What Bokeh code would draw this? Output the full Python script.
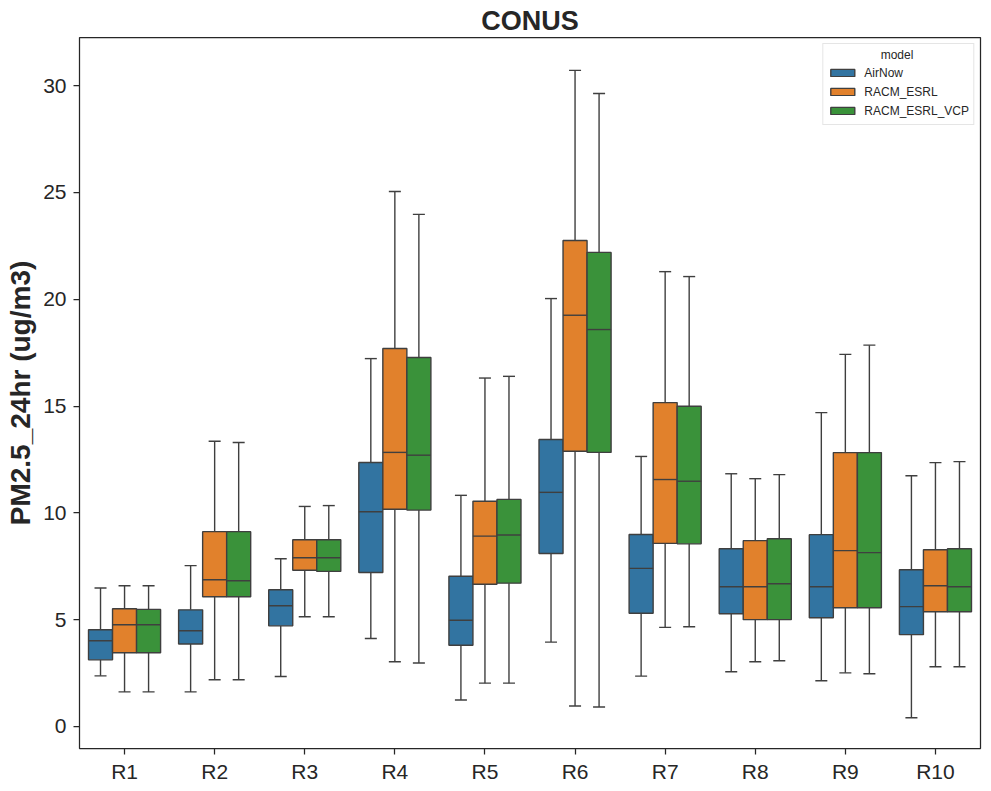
from bokeh.plotting import figure
from bokeh.models import ColumnDataSource, FixedTicker, Range1d, Legend, LegendItem
from bokeh.embed import file_html
from bokeh.resources import INLINE

# Regions and box-plot statistics (PM2.5 24-hr, ug/m3)
regions = ["R1", "R2", "R3", "R4", "R5", "R6", "R7", "R8", "R9", "R10"]
models = ["AirNow", "RACM_ESRL", "RACM_ESRL_VCP"]
colors = ["#3274a1", "#e1812c", "#3a923a"]

airnow_lo = [2.37, 1.62, 2.34, 4.12, 1.24, 3.95, 2.36, 2.56, 2.14, 0.41]
airnow_q1 = [3.12, 3.86, 4.71, 7.21, 3.80, 8.10, 5.30, 5.28, 5.09, 4.30]
airnow_med = [4.01, 4.48, 5.65, 10.05, 4.97, 10.96, 7.40, 6.54, 6.54, 5.61]
airnow_q3 = [4.53, 5.46, 6.40, 12.36, 7.03, 13.43, 8.99, 8.32, 8.98, 7.34]
airnow_hi = [6.48, 7.53, 7.85, 17.22, 10.82, 20.03, 12.64, 11.83, 14.69, 11.74]

esrl_lo = [1.62, 2.19, 5.14, 3.03, 2.03, 0.96, 4.64, 3.03, 2.51, 2.80]
esrl_q1 = [3.45, 6.07, 7.31, 10.17, 6.66, 12.88, 8.57, 5.00, 5.56, 5.37]
esrl_med = [4.76, 6.87, 7.90, 12.83, 8.91, 19.25, 11.56, 6.54, 8.23, 6.59]
esrl_q3 = [5.51, 9.12, 8.74, 17.69, 10.54, 22.75, 15.16, 8.70, 12.82, 8.27]
esrl_hi = [6.59, 13.35, 10.30, 25.04, 16.31, 30.71, 21.29, 11.60, 17.42, 12.35]

vcp_lo = [1.62, 2.19, 5.14, 2.97, 2.03, 0.91, 4.67, 3.08, 2.47, 2.80]
vcp_q1 = [3.45, 6.07, 7.26, 10.13, 6.71, 12.83, 8.55, 5.00, 5.56, 5.37]
vcp_med = [4.76, 6.82, 7.90, 12.70, 8.96, 18.58, 11.48, 6.68, 8.14, 6.54]
vcp_q3 = [5.48, 9.12, 8.74, 17.27, 10.63, 22.19, 14.99, 8.79, 12.82, 8.32]
vcp_hi = [6.59, 13.29, 10.34, 23.97, 16.39, 29.63, 21.06, 11.79, 17.85, 12.40]

stats = [
    (airnow_lo, airnow_q1, airnow_med, airnow_q3, airnow_hi),
    (esrl_lo, esrl_q1, esrl_med, esrl_q3, esrl_hi),
    (vcp_lo, vcp_q1, vcp_med, vcp_q3, vcp_hi),
]

EDGE = "#3f3f3f"
INK = "#262626"
FONT = "Liberation Sans"

p = figure(width=991, height=791, output_backend="svg", toolbar_location=None,
           x_range=Range1d(-0.5, 9.5), y_range=Range1d(-1.03, 32.25),
           min_border_left=79, min_border_right=11, min_border_top=37,
           min_border_bottom=43, title="CONUS")

p.title.align = "center"
p.title.text_font = FONT
p.title.text_font_size = "27px"
p.title.text_font_style = "bold"
p.title.text_color = INK
p.title.standoff = 4

p.xgrid.visible = False
p.ygrid.visible = False
p.outline_line_color = INK
p.outline_line_width = 1.25
p.background_fill_color = "white"
p.border_fill_color = "white"

for ax in (p.xaxis[0], p.yaxis[0]):
    ax.axis_line_color = None
    ax.major_tick_line_color = INK
    ax.major_tick_line_width = 1.25
    ax.major_tick_out = 6
    ax.major_tick_in = 0
    ax.minor_tick_line_color = None
    ax.major_label_text_font = FONT
    ax.major_label_text_font_size = "21px"
    ax.major_label_text_color = INK

p.xaxis.ticker = FixedTicker(ticks=list(range(len(regions))))
p.xaxis.major_label_overrides = {i: r for i, r in enumerate(regions)}
p.xaxis.major_label_standoff = 5

p.yaxis.ticker = FixedTicker(ticks=[0, 5, 10, 15, 20, 25, 30])
p.yaxis.major_label_standoff = 7
p.yaxis.axis_label = "PM2.5_24hr (ug/m3)"
p.yaxis.axis_label_text_font = FONT
p.yaxis.axis_label_text_font_size = "28px"
p.yaxis.axis_label_text_font_style = "bold"
p.yaxis.axis_label_text_color = INK
p.yaxis.axis_label_standoff = 4

n_hue = len(models)
w = 0.8 / n_hue
legend_items = []

for k, (name, color, (lo, q1, med, q3, hi)) in enumerate(zip(models, colors, stats)):
    off = -0.4 + w * (k + 0.5)
    xs = [i + off for i in range(len(regions))]
    src = ColumnDataSource(dict(
        x=xs, xl=[x - w / 2 for x in xs], xr=[x + w / 2 for x in xs],
        cl=[x - w / 4 for x in xs], cr=[x + w / 4 for x in xs],
        lo=lo, q1=q1, med=med, q3=q3, hi=hi,
    ))
    # whiskers
    p.segment(x0="x", x1="x", y0="q3", y1="hi", source=src, line_color=EDGE, line_width=1.4)
    p.segment(x0="x", x1="x", y0="q1", y1="lo", source=src, line_color=EDGE, line_width=1.4)
    # caps
    p.segment(x0="cl", x1="cr", y0="hi", y1="hi", source=src, line_color=EDGE, line_width=1.4)
    p.segment(x0="cl", x1="cr", y0="lo", y1="lo", source=src, line_color=EDGE, line_width=1.4)
    # boxes
    box = p.vbar(x="x", width=w, bottom="q1", top="q3", source=src,
                 fill_color=color, line_color=EDGE, line_width=1.4)
    # medians
    p.segment(x0="xl", x1="xr", y0="med", y1="med", source=src, line_color=EDGE, line_width=1.4)
    legend_items.append(LegendItem(label=name, renderers=[box]))

# legend title is left-aligned by Bokeh; pad it with no-break spaces to centre it
legend = Legend(items=legend_items, location="top_right", title="\u00a0" * 16 + "model")
legend.margin = 6
legend.padding = 4
legend.spacing = 0
legend.glyph_width = 30
legend.glyph_height = 9
legend.label_standoff = 7
legend.label_text_font = FONT
legend.label_text_font_size = "12px"
legend.label_text_color = INK
legend.label_height = 19
legend.title_text_font = FONT
legend.title_text_font_size = "12px"
legend.title_text_font_style = "normal"
legend.title_text_color = INK
legend.title_standoff = 1
legend.border_line_color = "#cccccc"
legend.border_line_width = 1
legend.background_fill_alpha = 0.8
p.add_layout(legend)

open("out.html", "w").write(file_html(p, INLINE))
